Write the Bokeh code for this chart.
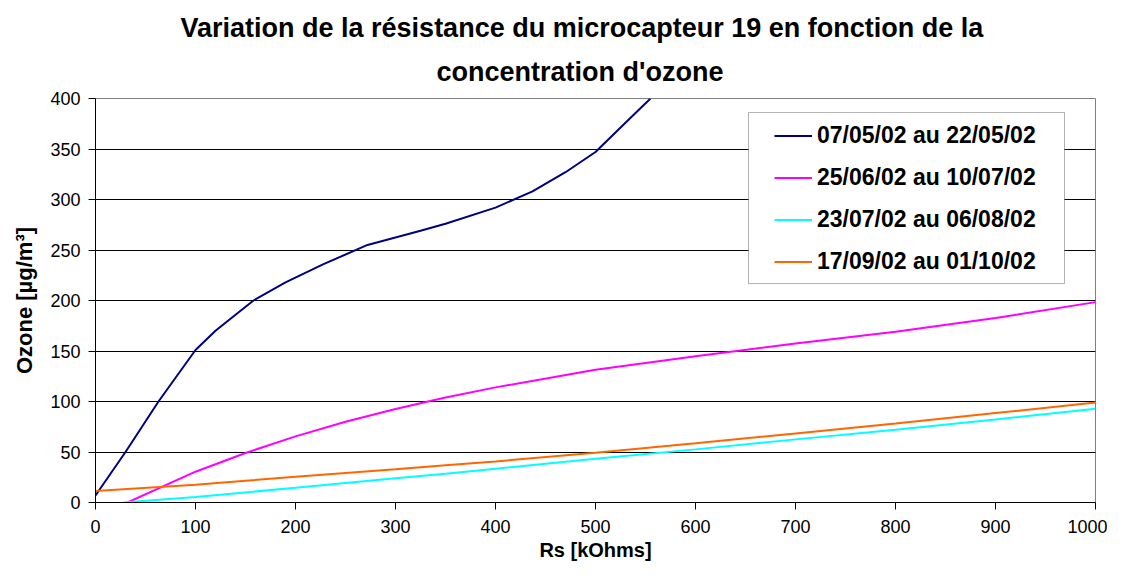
from bokeh.plotting import figure
from bokeh.models import Range1d, FixedTicker, Title, BoxAnnotation, Legend, LegendItem
from bokeh.embed import file_html
from bokeh.resources import INLINE

# ---- data ----
series_names = ["07/05/02 au 22/05/02", "25/06/02 au 10/07/02",
                "23/07/02 au 06/08/02", "17/09/02 au 01/10/02"]
series_colors = ["#000080", "#FF00FF", "#00FFFF", "#FF6600"]

blue_x = [0, 30, 63, 100, 120, 135, 158, 190, 228, 272, 325, 350, 400, 437, 470, 500, 532, 555]
blue_y = [7, 50, 100, 151, 170, 182, 200, 218, 236, 255, 269, 276, 292, 308, 327, 347, 378, 400]

magenta_x = [32, 100, 150, 200, 250, 300, 350, 400, 500, 600, 700, 800, 900, 1000]
magenta_y = [0, 30.5, 49, 65.5, 80, 92.5, 104, 114, 131.5, 144.7, 157.5, 169, 182.6, 198.4]

cyan_x = [28, 100, 200, 300, 350, 400, 500, 600, 700, 800, 900, 1000]
cyan_y = [0, 5.5, 14.5, 24, 28.5, 33.5, 43.4, 52.6, 62.5, 72, 82.2, 92.8]

orange_x = [0, 100, 150, 200, 250, 300, 350, 400, 500, 600, 700, 800, 900, 1000]
orange_y = [11.5, 17.5, 21.5, 25.5, 29.3, 33, 37, 40.7, 49.2, 58.6, 68.4, 78.3, 88.5, 99]

x_ticks = [0, 100, 200, 300, 400, 500, 600, 700, 800, 900, 1000]
y_ticks = [0, 50, 100, 150, 200, 250, 300, 350, 400]
grid_ticks = [50, 100, 150, 200, 250, 300, 350]

title_lines = ["Variation de la résistance du microcapteur 19 en fonction de la",
               "concentration d'ozone"]
x_title = "Rs [kOhms]"
y_title = "Ozone [µg/m³]"

FONT = "Liberation Sans"

p = figure(width=1107, height=565, output_backend="svg", toolbar_location=None,
           x_range=Range1d(0, 1000), y_range=Range1d(0, 400),
           min_border_left=95, min_border_right=12, min_border_top=98, min_border_bottom=63)
p.background_fill_color = "white"
p.border_fill_color = "white"
p.outline_line_color = "#808080"
p.outline_line_width = 1

p.xgrid.visible = False
p.ygrid.ticker = FixedTicker(ticks=grid_ticks)
p.ygrid.grid_line_color = "black"
p.ygrid.grid_line_width = 1

for ax in (p.xaxis[0], p.yaxis[0]):
    ax.axis_line_color = "black"
    ax.major_tick_line_color = "black"
    ax.major_tick_in = 0
    ax.major_tick_out = 7
    ax.minor_tick_line_color = None
    ax.major_label_text_font = FONT
    ax.major_label_text_font_size = "18px"
    ax.major_label_text_color = "black"
    ax.axis_label_text_font = FONT
    ax.axis_label_text_font_style = "bold"
    ax.axis_label_text_color = "black"

p.xaxis.ticker = FixedTicker(ticks=x_ticks)
p.yaxis.ticker = FixedTicker(ticks=y_ticks)
p.xaxis.major_label_standoff = 10
p.yaxis.major_label_standoff = 8

p.yaxis.axis_label = y_title
p.yaxis.axis_label_text_font_size = "22px"
p.yaxis.axis_label_standoff = 10

p.xaxis.axis_label = x_title
p.xaxis.axis_label_text_font_size = "20px"
p.xaxis.axis_label_standoff = 3

renderers = []
for xs, ys, c in [(blue_x, blue_y, series_colors[0]), (magenta_x, magenta_y, series_colors[1]),
                  (cyan_x, cyan_y, series_colors[2]), (orange_x, orange_y, series_colors[3])]:
    renderers.append(p.line(xs, ys, line_color=c, line_width=2))

# legend frame
box = BoxAnnotation(left=653, right=969, top=386.1, bottom=216.8,
                    fill_color="white", fill_alpha=1.0, line_color="black", line_width=1,
                    level="annotation")
p.add_layout(box)

legend = Legend(items=[LegendItem(label=n, renderers=[r]) for n, r in zip(series_names, renderers)],
                location=(679, 227), padding=0, margin=0, spacing=15,
                glyph_width=38, glyph_height=27, label_height=27, label_standoff=5,
                border_line_alpha=0, background_fill_alpha=0,
                label_text_font=FONT, label_text_font_size="23px", label_text_font_style="bold",
                label_text_color="black")
p.add_layout(legend)

# two-line title (second line nearest the plot)
t2 = Title(text=title_lines[1], align="left", offset=341, standoff=20, vertical_align="top",
           text_font=FONT, text_font_size="27px", text_font_style="bold", text_color="black")
t1 = Title(text=title_lines[0], align="left", offset=85, standoff=4, vertical_align="top",
           text_font=FONT, text_font_size="27px", text_font_style="bold", text_color="black")
p.add_layout(t2, "above")
p.add_layout(t1, "above")

open("out.html", "w").write(file_html(p, INLINE))
